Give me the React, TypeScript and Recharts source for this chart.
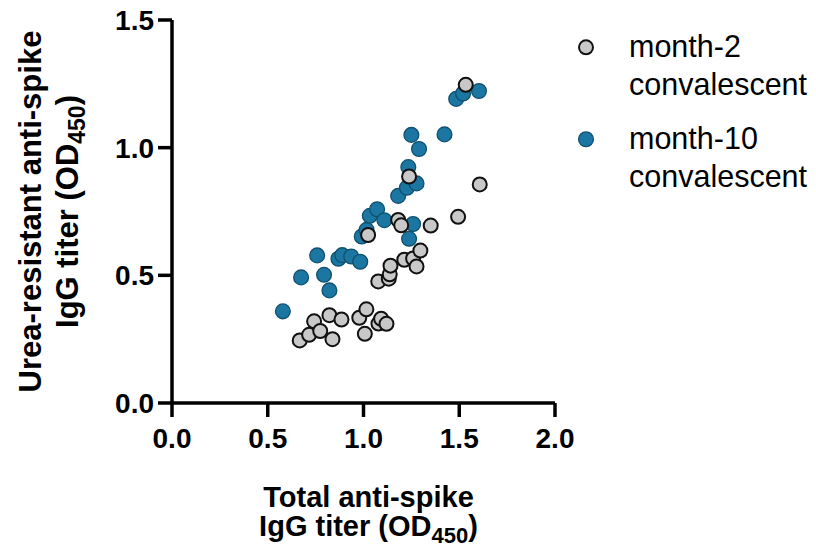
import React from 'react';
import { ScatterChart, Scatter, XAxis, YAxis, Legend } from 'recharts';

// Total anti-spike IgG (x) vs urea-resistant anti-spike IgG (y), OD450
const month2X = [
  0.667, 0.716, 0.742, 0.774, 0.822, 0.838, 0.885, 0.978, 1.015, 1.007,
  1.078, 1.092, 1.12, 1.024, 1.077, 1.132, 1.137, 1.141, 1.181, 1.197,
  1.213, 1.259, 1.277, 1.297, 1.351, 1.238, 1.494, 1.607, 1.534,
];
const month2Y = [
  0.245, 0.267, 0.32, 0.282, 0.344, 0.25, 0.327, 0.334, 0.367, 0.271,
  0.311, 0.33, 0.31, 0.658, 0.476, 0.487, 0.504, 0.538, 0.717, 0.696,
  0.561, 0.566, 0.535, 0.597, 0.695, 0.887, 0.729, 0.856, 1.246,
];
const month10X = [
  0.579, 0.674, 0.758, 0.794, 0.822, 0.869, 0.889, 0.936, 0.983, 0.991,
  1.016, 1.033, 1.071, 1.109, 1.181, 1.227, 1.277, 1.234, 1.25, 1.29,
  1.423, 1.259, 1.238, 1.484, 1.52, 1.603,
];
const month10Y = [
  0.359, 0.492, 0.578, 0.502, 0.441, 0.565, 0.579, 0.574, 0.553, 0.652,
  0.678, 0.733, 0.759, 0.716, 0.811, 0.843, 0.86, 0.924, 1.05, 0.995,
  1.052, 0.701, 0.643, 1.191, 1.212, 1.222,
];

const xTicks = [0, 0.5, 1, 1.5, 2];
const yTicks = [0, 0.5, 1, 1.5];

const seriesNames = ['month-2', 'month-10'];
const seriesSubtitle = 'convalescent';
const xTitle = 'Total anti-spike';
const yTitle = 'Urea-resistant anti-spike';
const titleUnitMain = 'IgG titer (OD';
const titleUnitSub = '450';

const FONT = '"Liberation Sans", Arial, Helvetica, sans-serif';

const toPoints = (xs: number[], ys: number[]) => xs.map((x, i) => ({ x, y: ys[i] }));

const series = [
  { name: seriesNames[0], data: toPoints(month2X, month2Y), fill: '#c8c8c8', stroke: '#111111', sw: 2, r: 7 },
  { name: seriesNames[1], data: toPoints(month10X, month10Y), fill: '#1c76a2', stroke: '#10506f', sw: 1.3, r: 7.4 },
];

const makeDot = (fill: string, stroke: string, sw: number, r: number) => (props: any) => {
  const { cx, cy } = props;
  if (cx == null || cy == null) return <g />;
  return <circle cx={cx} cy={cy} r={r} fill={fill} stroke={stroke} strokeWidth={sw} />;
};

const XTitle = (props: any) => {
  const vb = props && props.viewBox && props.viewBox.width ? props.viewBox : { x: 172, y: 403, width: 383, height: 149 };
  const cx = vb.x + vb.width / 2 + 5;
  return (
    <text textAnchor="middle" fontFamily={FONT} fontSize={29} fontWeight={700} fill="#000">
      <tspan x={cx} y={vb.y + 104}>{xTitle}</tspan>
      <tspan x={cx} y={vb.y + 133}>{titleUnitMain}</tspan>
      <tspan fontSize={22} dy={7}>{titleUnitSub}</tspan>
      <tspan dy={-7}>)</tspan>
    </text>
  );
};

const YTitle = (props: any) => {
  const vb = props && props.viewBox && props.viewBox.height ? props.viewBox : { x: 0, y: 20, width: 172, height: 383 };
  const cy = vb.y + vb.height / 2;
  return (
    <text
      transform={`translate(41,${cy}) rotate(-90)`}
      textAnchor="middle"
      fontFamily={FONT}
      fontSize={31}
      fontWeight={700}
      fill="#000"
    >
      <tspan x={0} y={0}>{yTitle}</tspan>
      <tspan x={0} y={37}>{titleUnitMain}</tspan>
      <tspan fontSize={23} dy={7}>{titleUnitSub}</tspan>
      <tspan dy={-7}>)</tspan>
    </text>
  );
};

const LegendContent = () => (
  <svg width={246} height={200} style={{ display: 'block' }}>
    {series.map((s, i) => {
      const top = i * 92;
      return (
        <g key={s.name}>
          <circle cx={16} cy={27.3 + top} r={s.r} fill={s.fill} stroke={s.stroke} strokeWidth={s.sw} />
          <text x={59} y={36.7 + top} fontFamily={FONT} fontSize={30.5} fill="#000">{s.name}</text>
          <text x={59} y={75 + top} fontFamily={FONT} fontSize={30.5} fill="#000">{seriesSubtitle}</text>
        </g>
      );
    })}
  </svg>
);

const tickStyle = { fill: '#000', fontSize: 28, fontWeight: 700, fontFamily: FONT };
const lineStyle = { stroke: '#000', strokeWidth: 3.5 };

export default function App() {
  // draw the month-10 series first so month-2 circles sit on top
  const drawOrder = [series[1], series[0]];
  return (
    <div style={{ position: 'absolute', left: 0, top: 0, background: '#fff' }}>
      <ScatterChart width={816} height={552} margin={{ top: 20, right: 15, bottom: 0, left: 0 }}>
        <XAxis
          type="number"
          dataKey="x"
          domain={[0, 2]}
          ticks={xTicks}
          interval={0}
          tickFormatter={(v: number) => v.toFixed(1)}
          height={149}
          tickSize={14}
          tickMargin={11}
          axisLine={lineStyle}
          tickLine={lineStyle}
          tick={tickStyle}
          label={XTitle}
        />
        <YAxis
          type="number"
          dataKey="y"
          domain={[0, 1.5]}
          ticks={yTicks}
          interval={0}
          tickFormatter={(v: number) => v.toFixed(1)}
          width={172}
          tickSize={14}
          tickMargin={4}
          axisLine={lineStyle}
          tickLine={lineStyle}
          tick={tickStyle}
          label={YTitle}
        />
        <Legend
          layout="vertical"
          align="right"
          verticalAlign="top"
          content={LegendContent}
          wrapperStyle={{ left: 570, top: 20, width: 246, height: 200 }}
        />
        {drawOrder.map((s) => (
          <Scatter
            key={s.name}
            name={s.name}
            data={s.data}
            isAnimationActive={false}
            shape={makeDot(s.fill, s.stroke, s.sw, s.r)}
          />
        ))}
      </ScatterChart>
    </div>
  );
}
